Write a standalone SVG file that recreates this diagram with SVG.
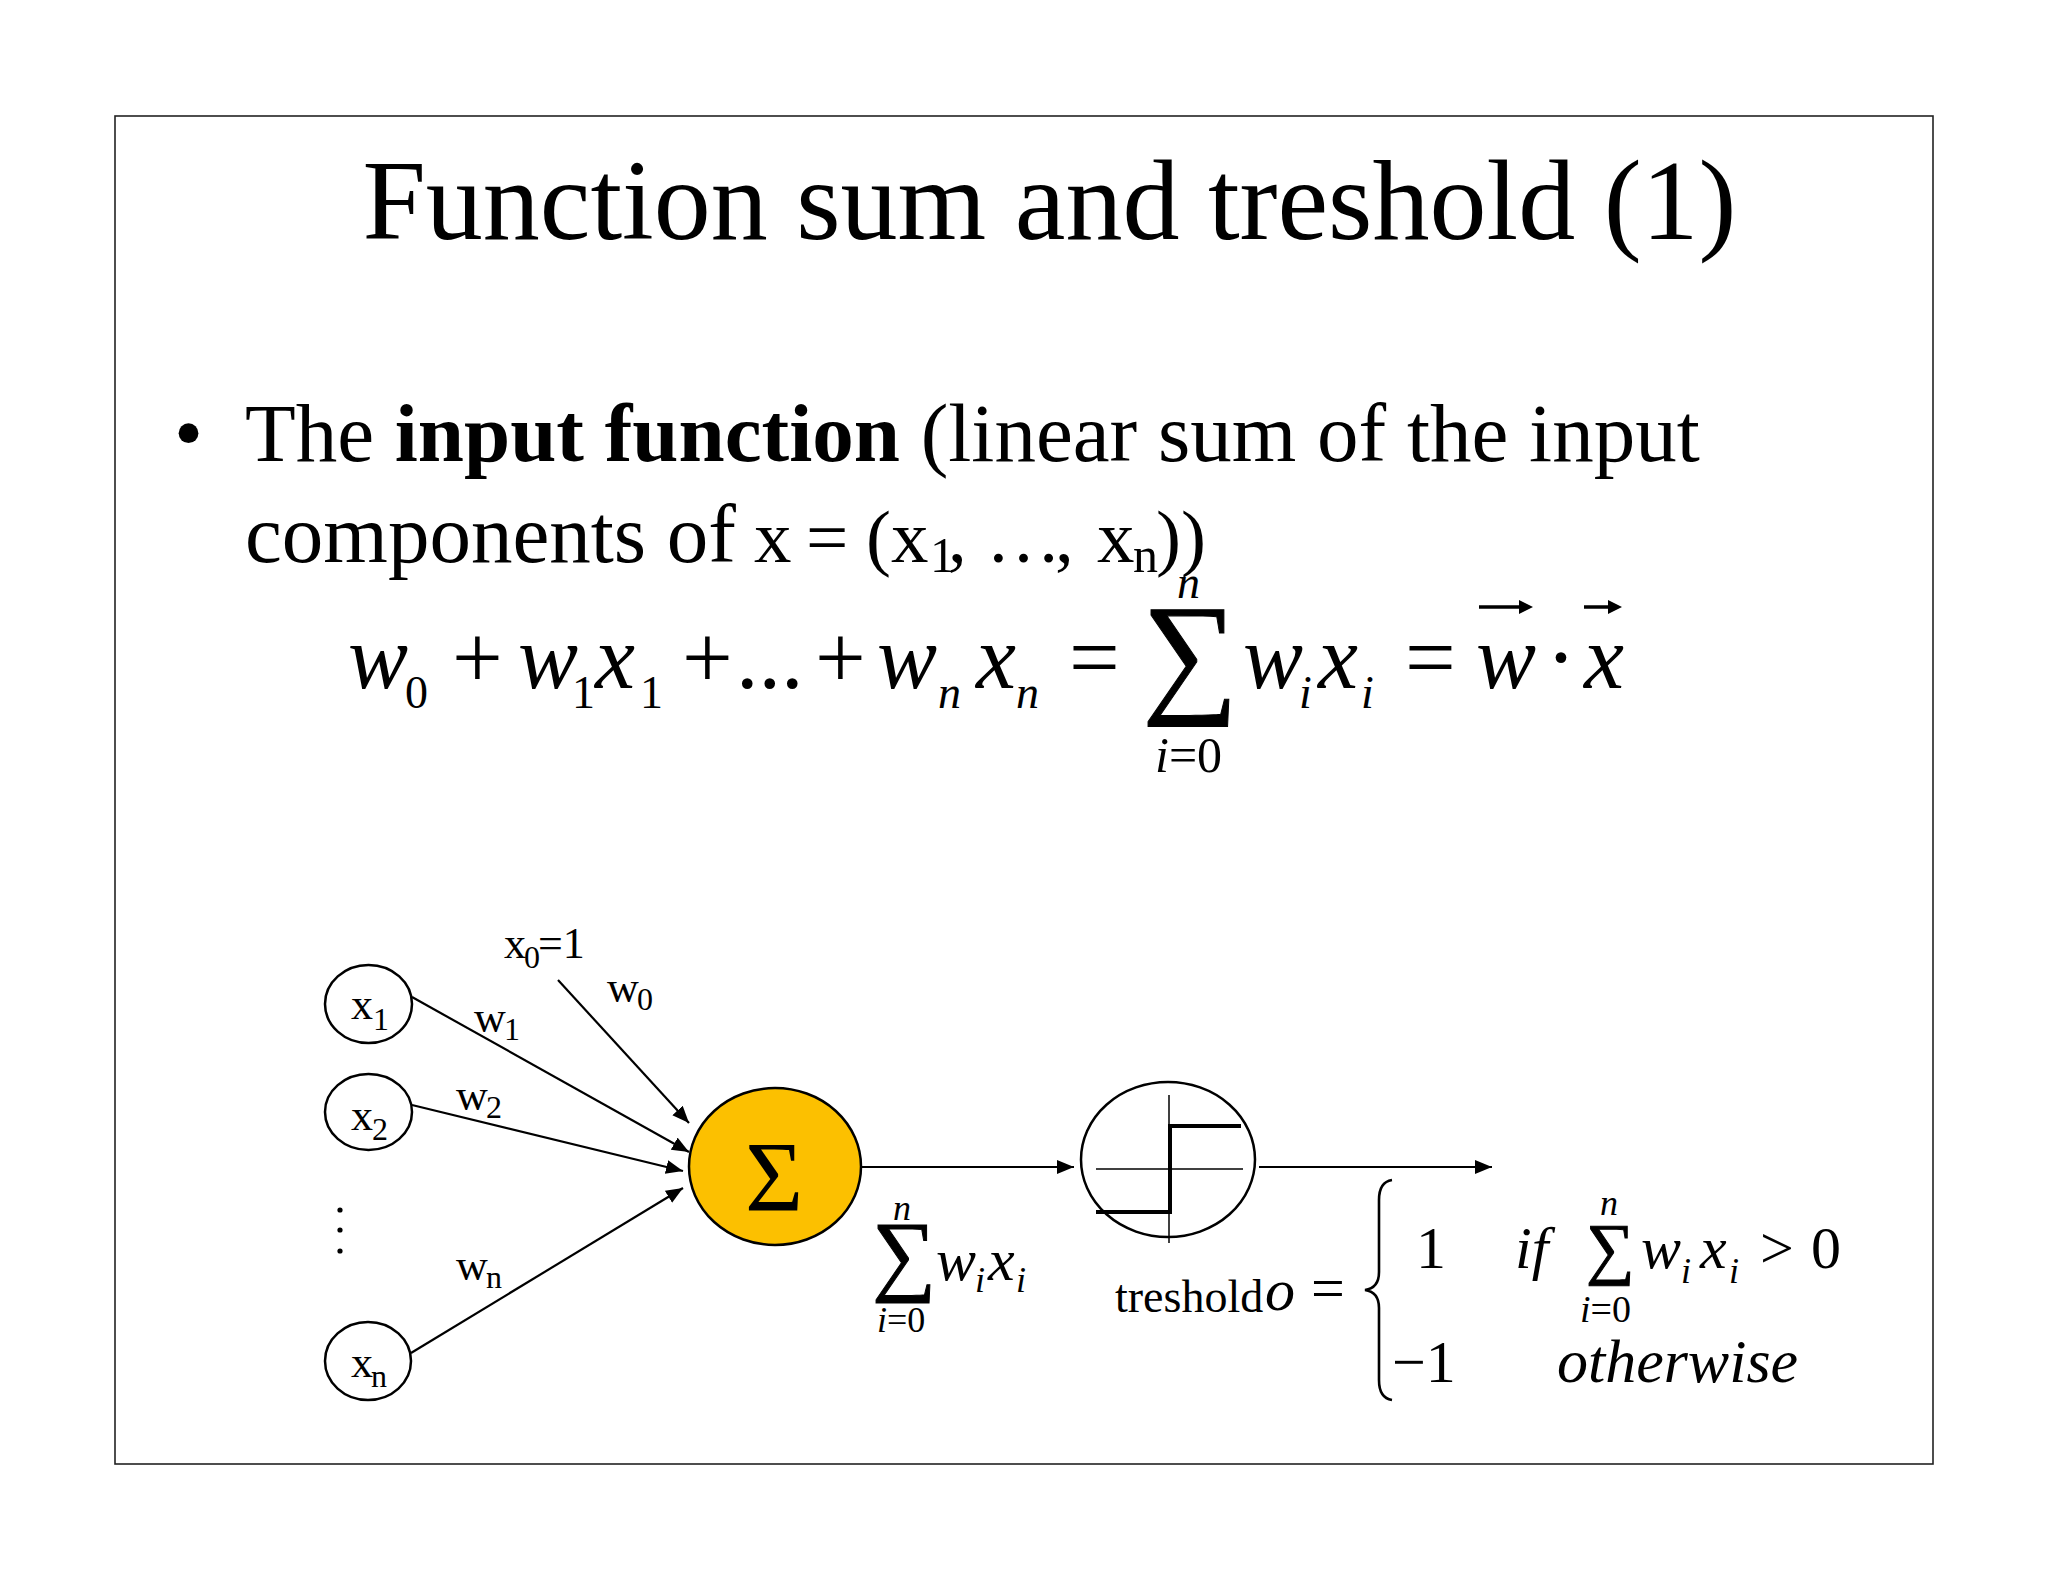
<svg xmlns="http://www.w3.org/2000/svg" width="2048" height="1582" viewBox="0 0 2048 1582">
<style>
text{font-family:"Liberation Serif","Times New Roman",serif;fill:#000}
.it{font-style:italic}
.b{font-weight:bold}
.node{fill:#fff;stroke:#000;stroke-width:2.5}
.conn{stroke:#000;stroke-width:2.2;fill:none}
.lbl{font-size:44px}
.sub{font-size:32px}
.ax{stroke:#000;stroke-width:1.5}
.step{stroke:#000;stroke-width:4;fill:none}
.sig{stroke:#000;stroke-width:1}
</style>
<defs>
<marker id="ah" markerUnits="userSpaceOnUse" markerWidth="18" markerHeight="16" refX="17" refY="7" orient="auto">
<path d="M0,0 L17,7 L0,14 Z" fill="#000"/>
</marker>
</defs>
<rect width="2048" height="1582" fill="#fff"/>
<rect x="115" y="116" width="1818" height="1348" fill="none" stroke="#222" stroke-width="1.6"/>
<g id="title"><text x="1049.5" y="239" font-size="114" text-anchor="middle">Function sum and treshold (1)</text></g>
<g id="bullet">
<text x="174" y="461" font-size="83">•</text>
<text x="245" y="461" font-size="83">The <tspan class="b">input function</tspan> (linear sum of the input</text>
<text y="562" font-size="83"><tspan x="245">components of</tspan><tspan x="754" font-size="75">x</tspan><tspan x="806" font-size="75">=</tspan><tspan x="866" font-size="75">(x</tspan><tspan x="930" dy="10" font-size="50">1</tspan><tspan x="948" dy="-10" font-size="75">,</tspan><tspan x="986" font-size="75">…</tspan><tspan x="1055" font-size="75">,</tspan><tspan x="1097" font-size="75">x</tspan><tspan x="1133" dy="10" font-size="50">n</tspan><tspan x="1156" dy="-10" font-size="75">))</tspan></text>
</g>
<g id="equation" font-size="90">
<text class="it" x="348" y="688">w</text><text x="405" y="708" font-size="46">0</text>
<text x="452" y="688">+</text>
<text class="it" x="518" y="688">w</text><text x="572" y="708" font-size="46">1</text>
<text class="it" x="595" y="688">x</text><text x="640" y="708" font-size="46">1</text>
<text x="682" y="688">+</text>
<text x="736" y="688">...</text>
<text x="815" y="688">+</text>
<text class="it" x="877" y="688">w</text><text class="it" x="938" y="708" font-size="46">n</text>
<text class="it" x="976" y="688">x</text><text class="it" x="1016" y="708" font-size="46">n</text>
<text x="1069" y="688">=</text>
<text class="sig" x="1142" y="698" font-size="135">∑</text>
<text class="it" x="1177" y="598" font-size="46">n</text>
<text x="1155" y="772" font-size="50"><tspan class="it">i</tspan>=0</text>
<text class="it" x="1243" y="688">w</text><text class="it" x="1299" y="708" font-size="46">i</text>
<text class="it" x="1318" y="688">x</text><text class="it" x="1361" y="708" font-size="46">i</text>
<text x="1405" y="688">=</text>
<text class="it" x="1476" y="688">w</text>
<text x="1546" y="688">·</text>
<text class="it" x="1584" y="688">x</text>
<path d="M1479,607 L1521,607" stroke="#000" stroke-width="3.5"/><path d="M1519,600 L1533,607 L1519,614 Z"/>
<path d="M1584,607 L1610,607" stroke="#000" stroke-width="3.5"/><path d="M1608,600 L1622,607 L1608,614 Z"/>
</g>
<g id="connectors">
<line class="conn" x1="558" y1="980" x2="689" y2="1123" marker-end="url(#ah)"/>
<line class="conn" x1="412" y1="997" x2="689" y2="1152" marker-end="url(#ah)"/>
<line class="conn" x1="412" y1="1105" x2="683" y2="1171" marker-end="url(#ah)"/>
<line class="conn" x1="411" y1="1353" x2="683" y2="1188" marker-end="url(#ah)"/>
<line class="conn" x1="861" y1="1167" x2="1074" y2="1167" marker-end="url(#ah)"/>
<line class="conn" x1="1259" y1="1167" x2="1492" y2="1167" marker-end="url(#ah)"/>
</g>
<g id="node-x1"><ellipse class="node" cx="368.5" cy="1004" rx="43.5" ry="39"/><text class="lbl" x="351" y="1019">x</text><text class="sub" x="373" y="1030">1</text></g>
<g id="node-x2"><ellipse class="node" cx="368.5" cy="1112" rx="43.5" ry="38"/><text class="lbl" x="351" y="1130">x</text><text class="sub" x="372" y="1140">2</text></g>
<g id="dots"><circle cx="340" cy="1210" r="2.6"/><circle cx="340" cy="1230" r="2.6"/><circle cx="340" cy="1251" r="2.6"/></g>
<g id="node-xn"><ellipse class="node" cx="368" cy="1361" rx="43" ry="39"/><text class="lbl" x="351" y="1377">x</text><text class="sub" x="371" y="1387">n</text></g>
<g id="labels">
<text class="lbl" x="504" y="958">x</text><text class="sub" x="524" y="968">0</text><text class="lbl" x="538" y="958">=1</text>
<text class="lbl" x="607" y="1002">w</text><text class="sub" x="637" y="1010">0</text>
<text class="lbl" x="474" y="1032">w</text><text class="sub" x="504" y="1040">1</text>
<text class="lbl" x="456" y="1110">w</text><text class="sub" x="486" y="1118">2</text>
<text class="lbl" x="456" y="1280">w</text><text class="sub" x="486" y="1288">n</text>
</g>
<g id="node-sum"><ellipse cx="775" cy="1166.5" rx="86" ry="78.5" fill="#fcc000" stroke="#000" stroke-width="2.5"/><text x="774" y="1210" font-size="100" text-anchor="middle">Σ</text></g>
<g id="sum-label">
<text class="sig" x="872" y="1284" font-size="90">∑</text>
<text class="it" x="893" y="1220" font-size="36">n</text>
<text x="877" y="1332" font-size="36"><tspan class="it">i</tspan>=0</text>
<text class="it" x="936" y="1280" font-size="60">w</text><text class="it" x="975" y="1292" font-size="36">i</text>
<text class="it" x="988" y="1280" font-size="60">x</text><text class="it" x="1016" y="1292" font-size="36">i</text>
</g>
<g id="node-threshold">
<ellipse class="node" cx="1168" cy="1159.5" rx="87" ry="77.5"/>
<line class="ax" x1="1096" y1="1169" x2="1243" y2="1169"/>
<line class="ax" x1="1169" y1="1095" x2="1169" y2="1243"/>
<path class="step" d="M1096,1212 H1170 V1126 H1241"/>
</g>
<g id="threshold-formula">
<text x="1115" y="1312" font-size="46">treshold</text>
<text class="it" x="1265" y="1310" font-size="60">o</text>
<text x="1311" y="1308" font-size="60">=</text>
<path d="M1392,1180 Q1379,1182 1379,1200 L1379,1272 Q1379,1288 1365,1290 Q1379,1292 1379,1308 L1379,1380 Q1379,1398 1392,1400" fill="none" stroke="#000" stroke-width="2.6"/>
<text x="1416" y="1268" font-size="60">1</text>
<text class="it" x="1515" y="1268" font-size="60">if</text>
<text class="sig" x="1586" y="1271" font-size="68">∑</text>
<text class="it" x="1600" y="1215" font-size="36">n</text>
<text x="1580" y="1322" font-size="38"><tspan class="it">i</tspan>=0</text>
<text class="it" x="1641" y="1268" font-size="60">w</text><text class="it" x="1681" y="1283" font-size="36">i</text>
<text class="it" x="1700" y="1268" font-size="60">x</text><text class="it" x="1729" y="1283" font-size="36">i</text>
<text x="1760" y="1268" font-size="60">&gt;</text>
<text x="1811" y="1268" font-size="60">0</text>
<text x="1392" y="1382" font-size="60">−1</text>
<text class="it" x="1557" y="1382" font-size="62">otherwise</text>
</g>
</svg>
